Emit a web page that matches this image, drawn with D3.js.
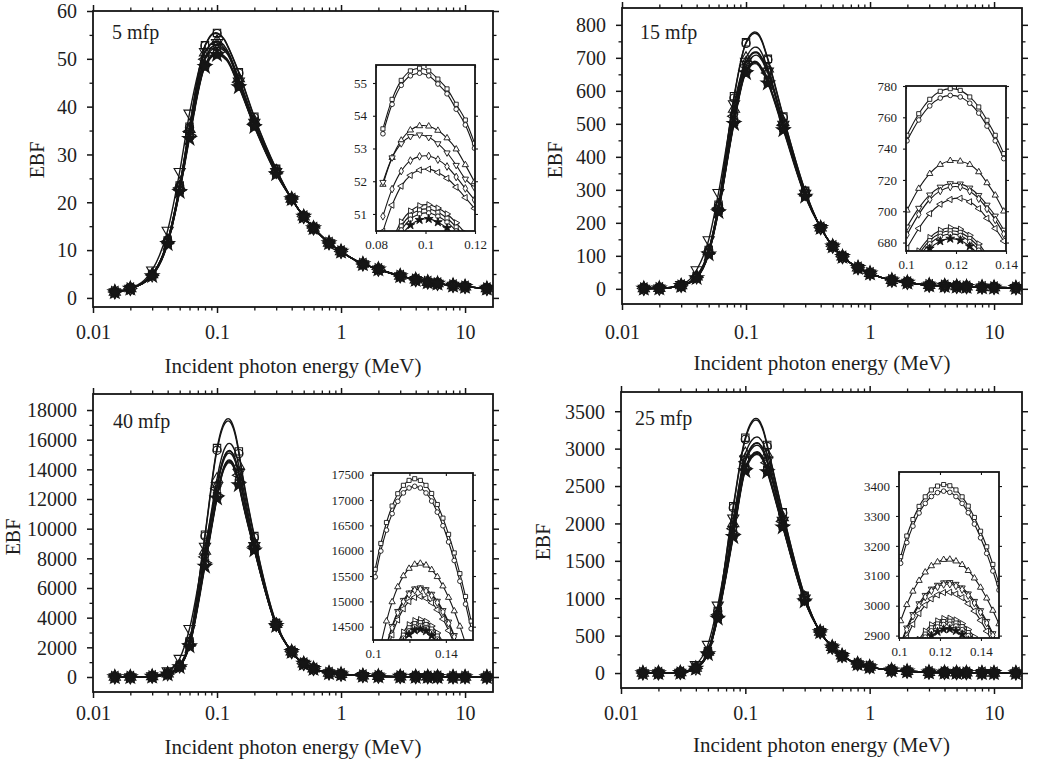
<!DOCTYPE html>
<html>
<head>
<meta charset="utf-8">
<script src="https://cdn.jsdelivr.net/npm/d3@7"></script>
<style>
  html, body { margin: 0; padding: 0; background: #fff; }
  svg { display: block; }
</style>
</head>
<body>
<svg id="chart" width="1042" height="762"></svg>
<script>
// ---------- shared energy grid (MeV) ----------
const energies = [0.015, 0.02, 0.03, 0.04, 0.05, 0.06, 0.08, 0.1, 0.15, 0.2, 0.3, 0.4, 0.5, 0.6, 0.8, 1, 1.5, 2, 3, 4, 5, 6, 8, 10, 15];
// low (0.015, 0.02) and high (0.4 .. 15 MeV) ends are shared by all curves;
// 0.03 .. 0.3 MeV values are listed per curve.
const xMajor = [0.01, 0.1, 1, 10];
const xMajorLabels = ["0.01", "0.1", "1", "10"];
const xMinor = [0.02, 0.03, 0.04, 0.05, 0.06, 0.07, 0.08, 0.09, 0.2, 0.3, 0.4, 0.5, 0.6, 0.7, 0.8, 0.9, 2, 3, 4, 5, 6, 7, 8, 9];

// ---------- 5 mfp ----------
const low5 = [1.25, 1.95];
const high5 = [20.7, 17.0, 14.6, 11.5, 9.7, 7.1, 6.0, 4.6, 3.8, 3.3, 3.0, 2.6, 2.35, 1.95];
const peak5 = [
  [4.9, 12.0, 23.5, 35.8, 52.85, 55.42, 47.2, 37.9, 27.0],
  [4.9, 12.0, 23.4, 35.6, 52.7, 55.27, 47.0, 37.7, 26.9],
  [4.9, 12.0, 23.3, 35.3, 51.3, 53.68, 45.9, 37.0, 26.6],
  [5.8, 14.1, 26.4, 38.6, 51.45, 53.37, 45.3, 36.7, 26.4],
  [4.8, 11.8, 23.0, 34.9, 50.3, 52.77, 45.3, 36.6, 26.4],
  [4.8, 11.8, 23.0, 34.8, 49.9, 52.36, 45.1, 36.5, 26.3],
  [4.7, 11.5, 22.5, 34.0, 48.8, 51.27, 44.5, 36.1, 26.1],
  [4.7, 11.5, 22.5, 33.9, 48.65, 51.14, 44.4, 36.0, 26.1],
  [4.7, 11.4, 22.4, 33.7, 48.5, 51.02, 44.3, 36.0, 26.0],
  [4.6, 11.3, 22.2, 33.3, 48.35, 50.84, 44.1, 35.8, 25.9]
];
const insetX5 = [0.0828, 0.0865, 0.0902, 0.0939, 0.0976, 0.1013, 0.105, 0.1087, 0.1124, 0.1161, 0.1198];
const inset5 = [
  [53.60, 54.50, 55.08, 55.37, 55.45, 55.37, 55.12, 54.82, 54.35, 53.87, 53.16],
  [53.45, 54.35, 54.93, 55.22, 55.30, 55.22, 54.97, 54.67, 54.20, 53.72, 53.01],
  [51.90, 52.72, 53.25, 53.56, 53.69, 53.68, 53.55, 53.32, 52.98, 52.50, 51.98],
  [51.97, 52.72, 53.15, 53.37, 53.42, 53.34, 53.15, 52.87, 52.49, 52.07, 51.80],
  [50.93, 51.76, 52.31, 52.63, 52.76, 52.77, 52.66, 52.45, 52.13, 51.78, 51.43],
  [50.47, 51.27, 51.85, 52.18, 52.34, 52.37, 52.27, 52.09, 51.82, 51.50, 51.17],
  [49.38, 50.18, 50.76, 51.09, 51.25, 51.28, 51.18, 51.00, 50.73, 50.41, 50.08],
  [49.25, 50.05, 50.63, 50.96, 51.12, 51.15, 51.05, 50.87, 50.60, 50.28, 49.95],
  [49.13, 49.93, 50.51, 50.84, 51.00, 51.03, 50.93, 50.75, 50.48, 50.16, 49.83],
  [48.95, 49.75, 50.33, 50.66, 50.82, 50.85, 50.75, 50.57, 50.30, 49.98, 49.65]
];
const yTicks5 = [0, 10, 20, 30, 40, 50, 60];
const yMinor5 = [5, 15, 25, 35, 45, 55];
const insetYTicks5 = [51, 52, 53, 54, 55];
const insetXTicks5 = [0.08, 0.1, 0.12];
const insetXLabels5 = ["0.08", "0.1", "0.12"];

// ---------- 15 mfp ----------
const low15 = [1, 1.5];
const high15 = [185, 129, 97, 64, 47, 26, 19, 11, 9, 7, 6, 5, 4, 3];
const peak15 = [
  [10, 38, 118, 255, 584, 747, 697, 522, 297],
  [10, 38, 117, 253, 578, 744, 694, 519, 296],
  [10, 37, 115, 250, 545, 699, 667, 505, 291],
  [12, 57, 148, 291, 560, 689, 659, 498, 289],
  [10, 36, 113, 246, 530, 684, 656, 500, 289],
  [10, 36, 112, 244, 523, 675, 654, 496, 287],
  [9, 34, 108, 238, 508, 661, 630, 488, 283],
  [9, 34, 108, 237, 506, 659, 628, 487, 283],
  [9, 33, 107, 236, 504, 657, 626, 485, 282],
  [9, 33, 105, 233, 500, 654, 623, 481, 280]
];
const insetX15 = [0.1004, 0.1051, 0.1095, 0.1137, 0.1177, 0.1217, 0.1255, 0.1291, 0.1324, 0.1357, 0.1391];
const inset15 = [
  [748.5, 762.3, 771.5, 776.6, 778.3, 777.2, 773.0, 766.6, 758.1, 748.5, 736.8],
  [745.0, 758.3, 767.3, 772.3, 774.0, 773.0, 769.0, 762.7, 754.4, 745.0, 733.6],
  [700.6, 714.5, 724.0, 729.8, 732.3, 731.9, 729.8, 725.1, 718.1, 710.2, 700.0],
  [690.0, 702.0, 710.5, 715.5, 717.7, 717.5, 714.9, 710.2, 704.0, 697.0, 688.0],
  [685.0, 698.0, 707.5, 713.0, 715.5, 715.5, 712.8, 708.0, 701.5, 694.5, 685.5],
  [676.5, 689.0, 698.5, 704.5, 707.5, 708.3, 706.0, 701.7, 695.5, 689.0, 681.0],
  [661.8, 674.6, 683.2, 687.9, 689.5, 688.5, 684.6, 679.1, 672.0, 664.5, 656.5],
  [659.8, 672.6, 681.2, 685.9, 687.5, 686.5, 682.6, 677.1, 670.0, 662.5, 654.5],
  [657.8, 670.6, 679.2, 683.9, 685.5, 684.5, 680.6, 675.1, 668.0, 660.5, 652.5],
  [654.8, 667.6, 676.2, 680.9, 682.5, 681.5, 677.6, 672.1, 665.0, 657.5, 649.5]
];
const yTicks15 = [0, 100, 200, 300, 400, 500, 600, 700, 800];
const yMinor15 = [50, 150, 250, 350, 450, 550, 650, 750];
const insetYTicks15 = [680, 700, 720, 740, 760, 780];
const insetXTicks15 = [0.1, 0.12, 0.14];
const insetXLabels15 = ["0.1", "0.12", "0.14"];

// ---------- 40 mfp ----------
const low40 = [0, 0];
const high40 = [1700, 900, 560, 270, 180, 90, 50, 25, 15, 10, 8, 5, 4, 2];
const peak40 = [
  [40, 230, 800, 2400, 9600, 15435, 15210, 9500, 3650],
  [40, 230, 790, 2380, 9500, 15285, 15060, 9400, 3620],
  [40, 220, 760, 2300, 8500, 13350, 14250, 9000, 3560],
  [60, 400, 1240, 3250, 8800, 12870, 13770, 8850, 3530],
  [40, 215, 740, 2250, 8200, 12840, 13740, 8850, 3530],
  [40, 210, 730, 2220, 8100, 12700, 13600, 8800, 3520],
  [35, 200, 700, 2150, 7700, 12240, 13140, 8650, 3480],
  [35, 200, 695, 2130, 7650, 12180, 13080, 8620, 3470],
  [35, 195, 690, 2110, 7600, 12120, 13020, 8600, 3460],
  [35, 190, 680, 2080, 7450, 12050, 12950, 8550, 3450]
];
const insetX40 = [0.1012, 0.1043, 0.1074, 0.1105, 0.1136, 0.1167, 0.1198, 0.1229, 0.1260, 0.1291, 0.1322, 0.1353, 0.1384, 0.1415, 0.1446, 0.1477, 0.1508, 0.1539];
const inset40 = [
  [15633, 16143, 16556, 16881, 17124, 17290, 17387, 17420, 17387, 17289, 17129, 16911, 16642, 16322, 15956, 15547, 15096, 14610],
  [15483, 15993, 16406, 16731, 16974, 17140, 17237, 17270, 17237, 17139, 16979, 16761, 16492, 16172, 15806, 15397, 14946, 14460],
  [13573, 14141, 14609, 14988, 15284, 15502, 15648, 15729, 15749, 15713, 15623, 15485, 15301, 15075, 14809, 14506, 14167, 13798],
  [13093, 13661, 14129, 14508, 14804, 15022, 15168, 15249, 15269, 15233, 15143, 15005, 14821, 14595, 14329, 14026, 13687, 13318],
  [13063, 13631, 14099, 14478, 14774, 14992, 15138, 15219, 15239, 15203, 15113, 14975, 14791, 14565, 14299, 13996, 13657, 13288],
  [12923, 13491, 13959, 14338, 14634, 14852, 14998, 15079, 15099, 15063, 14973, 14835, 14651, 14425, 14159, 13856, 13517, 13148],
  [12463, 13031, 13499, 13878, 14174, 14392, 14538, 14619, 14639, 14603, 14513, 14375, 14191, 13965, 13699, 13396, 13057, 12688],
  [12403, 12971, 13439, 13818, 14114, 14332, 14478, 14559, 14579, 14543, 14453, 14315, 14131, 13905, 13639, 13336, 12997, 12628],
  [12343, 12911, 13379, 13758, 14054, 14272, 14418, 14499, 14519, 14483, 14393, 14255, 14071, 13845, 13579, 13276, 12937, 12568],
  [12273, 12841, 13309, 13688, 13984, 14202, 14348, 14429, 14449, 14413, 14323, 14185, 14001, 13775, 13509, 13206, 12867, 12498]
];
const yTicks40 = [0, 2000, 4000, 6000, 8000, 10000, 12000, 14000, 16000, 18000];
const yMinor40 = [1000, 3000, 5000, 7000, 9000, 11000, 13000, 15000, 17000];
const insetYTicks40 = [14500, 15000, 15500, 16000, 16500, 17000, 17500];
const insetXTicks40 = [0.1, 0.12, 0.14];
const insetXLabels40 = ["0.1", "", "0.14"];

// ---------- 25 mfp ----------
const low25 = [1, 1];
const high25 = [550, 345, 232, 122, 82, 37, 23, 10, 6, 4, 3, 2, 2, 1];
const peak25 = [
  [6, 70, 290, 830, 2230, 3146, 3050, 2150, 1035],
  [6, 70, 288, 825, 2210, 3124, 3028, 2140, 1030],
  [6, 67, 280, 800, 2000, 2935, 2921, 2080, 1010],
  [8, 110, 380, 905, 2070, 2858, 2844, 2040, 1000],
  [6, 66, 275, 790, 1950, 2852, 2838, 2040, 1000],
  [6, 65, 272, 780, 1930, 2825, 2811, 2025, 995],
  [5, 62, 262, 750, 1860, 2738, 2724, 1975, 975],
  [5, 62, 260, 745, 1850, 2728, 2714, 1970, 972],
  [5, 61, 258, 740, 1840, 2718, 2704, 1962, 968],
  [5, 60, 255, 730, 1820, 2702, 2688, 1950, 960]
];
const insetX25 = [0.1008, 0.1038, 0.1068, 0.1098, 0.1128, 0.1158, 0.1188, 0.1218, 0.1248, 0.1278, 0.1308, 0.1338, 0.1368, 0.1398, 0.1428, 0.1458, 0.1488];
const inset25 = [
  [3164, 3233, 3288, 3332, 3364, 3387, 3400, 3405, 3401, 3387, 3364, 3333, 3295, 3249, 3197, 3138, 3074],
  [3142, 3211, 3266, 3310, 3342, 3365, 3378, 3383, 3379, 3365, 3342, 3311, 3273, 3227, 3175, 3116, 3052],
  [2949, 3003, 3048, 3084, 3112, 3133, 3146, 3154, 3155, 3149, 3137, 3117, 3092, 3061, 3025, 2984, 2939],
  [2872, 2926, 2971, 3007, 3035, 3056, 3069, 3077, 3078, 3072, 3060, 3040, 3015, 2984, 2948, 2907, 2862],
  [2866, 2920, 2965, 3001, 3029, 3050, 3063, 3071, 3072, 3066, 3054, 3034, 3009, 2978, 2942, 2901, 2856],
  [2839, 2893, 2938, 2974, 3002, 3023, 3036, 3044, 3045, 3039, 3027, 3007, 2982, 2951, 2915, 2874, 2829],
  [2752, 2806, 2851, 2887, 2915, 2936, 2949, 2957, 2958, 2952, 2940, 2920, 2895, 2864, 2828, 2787, 2742],
  [2742, 2796, 2841, 2877, 2905, 2926, 2939, 2947, 2948, 2942, 2930, 2910, 2885, 2854, 2818, 2777, 2732],
  [2732, 2786, 2831, 2867, 2895, 2916, 2929, 2937, 2938, 2932, 2920, 2900, 2875, 2844, 2808, 2767, 2722],
  [2716, 2770, 2815, 2851, 2879, 2900, 2913, 2921, 2922, 2916, 2904, 2884, 2859, 2828, 2792, 2751, 2706]
];
const yTicks25 = [0, 500, 1000, 1500, 2000, 2500, 3000, 3500];
const yMinor25 = [250, 750, 1250, 1750, 2250, 2750, 3250];
const insetYTicks25 = [2900, 3000, 3100, 3200, 3300, 3400];
const insetXTicks25 = [0.1, 0.12, 0.14];
const insetXLabels25 = ["0.1", "0.12", "0.14"];

// ---------- marker styles, one per curve ----------
const markerStyles = [
  { type: d3.symbolSquare,   rot: 0,   filled: false },
  { type: d3.symbolCircle,   rot: 0,   filled: false },
  { type: d3.symbolTriangle, rot: 0,   filled: false },
  { type: d3.symbolTriangle, rot: 180, filled: false },
  { type: d3.symbolDiamond,  rot: 0,   filled: false },
  { type: d3.symbolTriangle, rot: -90, filled: false },
  { type: d3.symbolTriangle, rot: 90,  filled: false },
  { type: d3.symbolSquare,   rot: 0,   filled: false },
  { type: d3.symbolCircle,   rot: 0,   filled: false },
  { type: d3.symbolStar,     rot: 0,   filled: true }
];

// ---------- panel layout ----------
const xDomain = [0.01, 16.8];
const panels = [
  { label: "5 mfp", low: low5, peak: peak5, high: high5, insetX: insetX5, inset: inset5,
    yTicks: yTicks5, yMinor: yMinor5,
    box: { x0: 93, x1: 493, y0: 11, y1: 307 }, yDomain: [-1.9, 60],
    tickLabelY: 332, xTitleY: 366, yTitle: [37, 160], tag: [112, 39],
    ibox: { x0: 376, x1: 475, y0: 65, y1: 231 }, ixDomain: [0.08, 0.12], iyDomain: [50.48, 55.55],
    iyTicks: insetYTicks5, ixTicks: insetXTicks5, ixLabels: insetXLabels5 },
  { label: "15 mfp", low: low15, peak: peak15, high: high15, insetX: insetX15, inset: inset15,
    yTicks: yTicks15, yMinor: yMinor15,
    box: { x0: 622, x1: 1022, y0: 8, y1: 304 }, yDomain: [-46, 851],
    tickLabelY: 332, xTitleY: 363, yTitle: [555, 160], tag: [640, 39],
    ibox: { x0: 906, x1: 1006, y0: 86, y1: 251 }, ixDomain: [0.1, 0.14], iyDomain: [674.6, 780],
    iyTicks: insetYTicks15, ixTicks: insetXTicks15, ixLabels: insetXLabels15 },
  { label: "40 mfp", low: low40, peak: peak40, high: high40, insetX: insetX40, inset: inset40,
    yTicks: yTicks40, yMinor: yMinor40,
    box: { x0: 93, x1: 493, y0: 394, y1: 692 }, yDomain: [-1012, 19080],
    tickLabelY: 713, xTitleY: 747, yTitle: [13, 537], tag: [113, 428],
    ibox: { x0: 373, x1: 473, y0: 473, y1: 640 }, ixDomain: [0.1, 0.1549], iyDomain: [14237, 17533],
    iyTicks: insetYTicks40, ixTicks: insetXTicks40, ixLabels: insetXLabels40 },
  { label: "25 mfp", low: low25, peak: peak25, high: high25, insetX: insetX25, inset: inset25,
    yTicks: yTicks25, yMinor: yMinor25,
    box: { x0: 621, x1: 1022, y0: 392, y1: 688 }, yDomain: [-200, 3757],
    tickLabelY: 713, xTitleY: 745, yTitle: [543, 542], tag: [635, 425],
    ibox: { x0: 899, x1: 999, y0: 472, y1: 638 }, ixDomain: [0.1, 0.1488], iyDomain: [2892, 3447],
    iyTicks: insetYTicks25, ixTicks: insetXTicks25, ixLabels: insetXLabels25 }
];

const FONT = '"Liberation Serif", "Times New Roman", serif';
const INK = "#151515";
const TEXT = "#1e1e1e";
const svg = d3.select("#chart");
const defs = svg.append("defs");

function styleAxis(sel, width) {
  sel.select(".domain").remove();
  sel.selectAll(".tick line").attr("stroke", INK).attr("stroke-width", width);
  sel.selectAll(".tick text").attr("font-family", FONT).attr("fill", TEXT);
  return sel;
}

panels.forEach((p, pi) => {
  const b = p.box;
  const x = d3.scaleLog().domain(xDomain).range([b.x0, b.x1]);
  const y = d3.scaleLinear().domain(p.yDomain).range([b.y1, b.y0]);
  const g = svg.append("g");

  defs.append("clipPath").attr("id", "plot" + pi)
    .append("rect").attr("x", b.x0).attr("y", b.y0).attr("width", b.x1 - b.x0).attr("height", b.y1 - b.y0);

  // full curves: tabulated energies plus the magnified peak readings
  const curves = p.peak.map((pk, si) => {
    const vals = p.low.concat(pk, p.high);
    const pts = energies.map((e, j) => [e, vals[j]]);
    const fine = p.insetX.map((e, j) => [e, p.inset[si][j]]);
    return { pts, line: pts.concat(fine).sort((a, b2) => a[0] - b2[0]) };
  });

  const plot = g.append("g").attr("clip-path", `url(#plot${pi})`);
  const lineGen = d3.line().x(d => x(d[0])).y(d => y(d[1])).curve(d3.curveMonotoneX);
  curves.forEach(c => {
    plot.append("path").attr("d", lineGen(c.line))
      .attr("fill", "none").attr("stroke", INK).attr("stroke-width", 1.4);
  });
  curves.forEach((c, si) => {
    const m = markerStyles[si];
    const sym = d3.symbol(m.type, m.filled ? 58 : 54)();
    plot.append("g").selectAll("path").data(c.pts).join("path")
      .attr("transform", d => `translate(${x(d[0])},${y(d[1])}) rotate(${m.rot})`)
      .attr("d", sym)
      .attr("fill", m.filled ? INK : "none")
      .attr("stroke", INK).attr("stroke-width", 1.1);
  });

  // frame
  g.append("rect").attr("x", b.x0).attr("y", b.y0).attr("width", b.x1 - b.x0).attr("height", b.y1 - b.y0)
    .attr("fill", "none").attr("stroke", INK).attr("stroke-width", 1.8);

  // ticks, all pointing outward
  const bottom = g.append("g").attr("transform", `translate(0,${b.y1})`)
    .call(d3.axisBottom(x).tickValues(xMajor).tickFormat((d, i) => xMajorLabels[i]).tickSize(6).tickSizeOuter(0));
  styleAxis(bottom, 1.5);
  bottom.selectAll(".tick text").attr("y", p.tickLabelY - b.y1).attr("dy", "0.35em").attr("font-size", 20);
  styleAxis(g.append("g").attr("transform", `translate(0,${b.y1})`)
    .call(d3.axisBottom(x).tickValues(xMinor).tickFormat("").tickSize(3.5).tickSizeOuter(0)), 1.3);
  styleAxis(g.append("g").attr("transform", `translate(0,${b.y0})`)
    .call(d3.axisTop(x).tickValues(xMajor).tickFormat("").tickSize(6).tickSizeOuter(0)), 1.5);
  styleAxis(g.append("g").attr("transform", `translate(0,${b.y0})`)
    .call(d3.axisTop(x).tickValues(xMinor).tickFormat("").tickSize(3.5).tickSizeOuter(0)), 1.3);

  const left = g.append("g").attr("transform", `translate(${b.x0},0)`)
    .call(d3.axisLeft(y).tickValues(p.yTicks).tickFormat(d => String(d)).tickSize(6).tickPadding(10).tickSizeOuter(0));
  styleAxis(left, 1.5);
  left.selectAll(".tick text").attr("font-size", 20).attr("dy", "0.34em");
  styleAxis(g.append("g").attr("transform", `translate(${b.x0},0)`)
    .call(d3.axisLeft(y).tickValues(p.yMinor).tickFormat("").tickSize(3.5).tickSizeOuter(0)), 1.3);
  styleAxis(g.append("g").attr("transform", `translate(${b.x1},0)`)
    .call(d3.axisRight(y).tickValues(p.yTicks).tickFormat("").tickSize(6).tickSizeOuter(0)), 1.5);
  styleAxis(g.append("g").attr("transform", `translate(${b.x1},0)`)
    .call(d3.axisRight(y).tickValues(p.yMinor).tickFormat("").tickSize(3.5).tickSizeOuter(0)), 1.3);

  // titles
  g.append("text").attr("x", (b.x0 + b.x1) / 2).attr("y", p.xTitleY).attr("dy", "0.35em")
    .attr("text-anchor", "middle").attr("font-family", FONT).attr("font-size", 21).attr("fill", TEXT)
    .text("Incident photon energy (MeV)");
  g.append("text").attr("transform", `translate(${p.yTitle[0]},${p.yTitle[1]}) rotate(-90)`)
    .attr("dy", "0.35em").attr("text-anchor", "middle").attr("font-family", FONT).attr("font-size", 20)
    .attr("fill", TEXT).text("EBF");
  g.append("text").attr("x", p.tag[0]).attr("y", p.tag[1]).attr("font-family", FONT)
    .attr("font-size", 20).attr("fill", TEXT).text(p.label);

  // ---------- magnified peak ----------
  const ib = p.ibox;
  const ix = d3.scaleLinear().domain(p.ixDomain).range([ib.x0, ib.x1]);
  const iy = d3.scaleLinear().domain(p.iyDomain).range([ib.y1, ib.y0]);
  const ig = g.append("g");
  ig.append("rect").attr("x", ib.x0).attr("y", ib.y0).attr("width", ib.x1 - ib.x0).attr("height", ib.y1 - ib.y0)
    .attr("fill", "#fff");
  defs.append("clipPath").attr("id", "inset" + pi)
    .append("rect").attr("x", ib.x0).attr("y", ib.y0).attr("width", ib.x1 - ib.x0).attr("height", ib.y1 - ib.y0);
  const iplot = ig.append("g").attr("clip-path", `url(#inset${pi})`);
  const iline = d3.line().x(d => ix(d[0])).y(d => iy(d[1])).curve(d3.curveCatmullRom);
  p.inset.forEach(vals => {
    const pts = p.insetX.map((e, j) => [e, vals[j]]);
    iplot.append("path").attr("d", iline(pts)).attr("fill", "none").attr("stroke", INK).attr("stroke-width", 1.1);
  });
  p.inset.forEach((vals, si) => {
    const m = markerStyles[si];
    const sym = d3.symbol(m.type, m.filled ? 24 : 17)();
    const pts = p.insetX.map((e, j) => [e, vals[j]]);
    iplot.append("g").selectAll("path").data(pts).join("path")
      .attr("transform", d => `translate(${ix(d[0])},${iy(d[1])}) rotate(${m.rot})`)
      .attr("d", sym)
      .attr("fill", m.filled ? INK : "#fff")
      .attr("stroke", INK).attr("stroke-width", 0.9);
  });
  ig.append("rect").attr("x", ib.x0).attr("y", ib.y0).attr("width", ib.x1 - ib.x0).attr("height", ib.y1 - ib.y0)
    .attr("fill", "none").attr("stroke", INK).attr("stroke-width", 1.8);

  const ibot = ig.append("g").attr("transform", `translate(0,${ib.y1})`)
    .call(d3.axisBottom(ix).tickValues(p.ixTicks).tickFormat((d, i) => p.ixLabels[i]).tickSize(3).tickPadding(6).tickSizeOuter(0));
  styleAxis(ibot, 1.1);
  ibot.selectAll(".tick text").attr("font-size", 13);
  styleAxis(ig.append("g").attr("transform", `translate(0,${ib.y0})`)
    .call(d3.axisBottom(ix).tickValues(p.ixTicks).tickFormat("").tickSize(3).tickSizeOuter(0)), 1.1);
  const ileft = ig.append("g").attr("transform", `translate(${ib.x0},0)`)
    .call(d3.axisLeft(iy).tickValues(p.iyTicks).tickFormat(d => String(d)).tickSize(3).tickPadding(6).tickSizeOuter(0));
  styleAxis(ileft, 1.1);
  ileft.selectAll(".tick text").attr("font-size", 13);
  styleAxis(ig.append("g").attr("transform", `translate(${ib.x1},0)`)
    .call(d3.axisRight(iy).tickValues(p.iyTicks).tickFormat("").tickSize(3).tickSizeOuter(0)), 1.1);
});
</script>
</body>
</html>
